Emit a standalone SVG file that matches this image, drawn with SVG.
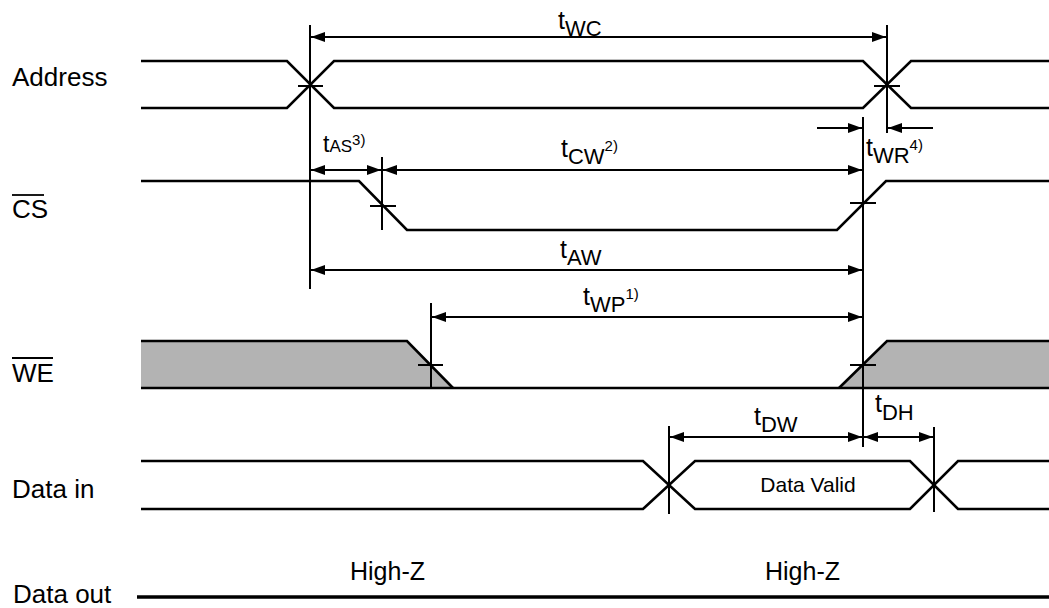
<svg xmlns="http://www.w3.org/2000/svg" width="1049" height="608" viewBox="0 0 1049 608">
<defs>
<marker id="ah" markerUnits="userSpaceOnUse" markerWidth="15" markerHeight="11" refX="14" refY="5" orient="auto-start-reverse">
<path d="M0,0 L14,5 L0,10 z" fill="#000"/>
</marker>
<style>
.sig{fill:none;stroke:#000;stroke-width:2.6;stroke-linejoin:miter}
.ref{fill:none;stroke:#000;stroke-width:2}
.dim{fill:none;stroke:#000;stroke-width:2;marker-start:url(#ah);marker-end:url(#ah)}
.dim1{fill:none;stroke:#000;stroke-width:2;marker-end:url(#ah)}
.lbl{font-family:"Liberation Sans",Arial,sans-serif;font-size:26px;fill:#000}
.tl{font-family:"Liberation Sans",Arial,sans-serif;font-size:25px;fill:#000}
.sub{font-size:22px}
.sup{font-size:15px}
.gray{fill:#b3b3b3;stroke:none}
</style>
</defs>
<rect width="1049" height="608" fill="#fff"/>

<g id="address">
<text class="lbl" x="12" y="86">Address</text>
<path class="sig" d="M141,61 H287 L334,108 H863 L911,61 H1049"/>
<path class="sig" d="M141,108 H287 L334,61 H863 L911,108 H1049"/>
</g>

<g id="cs">
<text class="lbl" x="12" y="218">CS</text>
<line x1="12" y1="195" x2="44" y2="195" stroke="#000" stroke-width="1.8"/>
<path class="sig" d="M141,181 H359 L407,230 H837 L886,181 H1049"/>
</g>

<g id="we">
<text class="lbl" x="12" y="382">WE</text>
<line x1="12" y1="358" x2="53" y2="358" stroke="#000" stroke-width="1.8"/>
<path class="gray" d="M141,341 H407 L453,388 H141 z"/>
<path class="gray" d="M839,388 L887,341 H1049 V388 z"/>
<path class="sig" d="M141,341 H407 L453,388"/>
<path class="sig" d="M839,388 L887,341 H1049"/>
<path class="sig" d="M141,388 H1049"/>
</g>

<g id="datain">
<text class="lbl" x="12" y="498">Data in</text>
<path class="sig" d="M141,461 H643 L695,509 H910 L958,461 H1049"/>
<path class="sig" d="M141,509 H643 L695,461 H910 L958,509 H1049"/>
<text class="tl" x="808" y="492" text-anchor="middle" style="font-size:21px">Data Valid</text>
</g>

<g id="dataout">
<text class="lbl" x="13" y="603">Data out</text>
<path d="M137,597 H1049" stroke="#000" stroke-width="3.5" fill="none"/>
<text class="lbl" x="350" y="580" style="font-size:25px">High-Z</text>
<text class="lbl" x="765" y="580" style="font-size:25px">High-Z</text>
</g>

<g id="connectors">
<line class="ref" x1="310" y1="25" x2="310" y2="289"/>
<line class="ref" x1="887" y1="25" x2="887" y2="133"/>
<line class="ref" x1="863" y1="117" x2="863" y2="447"/>
<line class="ref" x1="382" y1="157" x2="382" y2="230"/>
<line class="ref" x1="431" y1="303" x2="431" y2="388"/>
<line class="ref" x1="669" y1="426" x2="669" y2="514"/>
<line class="ref" x1="934" y1="427" x2="934" y2="512"/>
<line class="ref" x1="298" y1="86" x2="323" y2="86"/>
<line class="ref" x1="874" y1="86" x2="900" y2="86"/>
<line class="ref" x1="370" y1="206" x2="396" y2="206"/>
<line class="ref" x1="850" y1="203" x2="876" y2="203"/>
<line class="ref" x1="418" y1="365" x2="443" y2="365"/>
<line class="ref" x1="850" y1="365" x2="876" y2="365"/>
<line class="dim" x1="311" y1="37" x2="886" y2="37"/>
<line class="dim1" x1="817" y1="128" x2="862" y2="128"/>
<line class="dim1" x1="933" y1="128" x2="888" y2="128"/>
<line class="dim" x1="311" y1="170" x2="381" y2="170"/>
<line class="dim" x1="383" y1="170" x2="862" y2="170"/>
<line class="dim" x1="311" y1="270" x2="862" y2="270"/>
<line class="dim" x1="432" y1="317" x2="862" y2="317"/>
<line class="dim" x1="670" y1="437" x2="862" y2="437"/>
<line class="dim" x1="864" y1="437" x2="933" y2="437"/>
</g>

<g id="labels">
<text class="tl" x="558" y="29">t<tspan class="sub" dy="7">WC</tspan></text>
<text class="tl" x="323" y="152" style="font-size:23px">t<tspan style="font-size:17px">AS</tspan><tspan class="sup" dy="-7">3)</tspan></text>
<text class="tl" x="561" y="157">t<tspan class="sub" dy="7">CW</tspan><tspan class="sup" dy="-13">2)</tspan></text>
<text class="tl" x="560" y="258">t<tspan class="sub" dy="7">AW</tspan></text>
<text class="tl" x="583" y="305">t<tspan class="sub" dy="7">WP</tspan><tspan class="sup" dy="-13">1)</tspan></text>
<text class="tl" x="866" y="156">t<tspan class="sub" dy="7">WR</tspan><tspan class="sup" dy="-13">4)</tspan></text>
<text class="tl" x="754" y="425">t<tspan class="sub" dy="7">DW</tspan></text>
<text class="tl" x="875" y="412">t<tspan class="sub" dy="8">DH</tspan></text>
</g>
</svg>
